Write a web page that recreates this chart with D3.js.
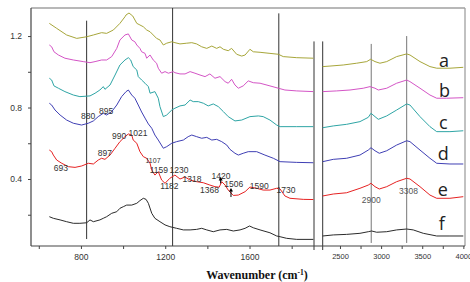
<!DOCTYPE html>
<html><head><meta charset="utf-8">
<script src="https://cdn.jsdelivr.net/npm/d3@7"></script>
<style>body{margin:0;background:#fff}svg{display:block}</style>
</head><body><svg id="c" width="470" height="282"></svg>
<script>
// ---------------- data ----------------
const seriesNames = ["a", "b", "c", "d", "e", "f"];
const curveA = [[650,1.271],[685,1.243],[732,1.206],[780,1.187],[827,1.196],[859,1.206],[898,1.219],[922,1.215],[954,1.234],[985,1.271],[1009,1.308],[1014,1.318],[1028,1.329],[1046,1.312],[1065,1.271],[1080,1.262],[1096,1.252],[1112,1.234],[1128,1.224],[1143,1.206],[1159,1.187],[1175,1.178],[1191,1.150],[1207,1.160],[1231,1.168],[1246,1.163],[1270,1.156],[1302,1.160],[1326,1.163],[1349,1.156],[1373,1.140],[1397,1.131],[1421,1.144],[1444,1.131],[1460,1.140],[1476,1.126],[1499,1.118],[1515,1.131],[1539,1.098],[1563,1.088],[1579,1.094],[1602,1.126],[1618,1.112],[1650,1.109],[1697,1.103],[1737,1.098],[1760,1.085],[1824,1.079],[1903,1.076],
  [2290,1.029],[2378,1.032],[2540,1.038],[2703,1.048],[2825,1.057],[2873,1.070],[2926,1.057],[2986,1.048],[3068,1.057],[3189,1.085],[3311,1.100],[3351,1.094],[3473,1.057],[3594,1.029],[3676,1.020],[3837,1.020],[3999,1.025]];
const curveB = [[650,1.150],[661,1.140],[672,1.112],[693,1.094],[724,1.076],[764,1.066],[811,1.057],[843,1.051],[867,1.057],[898,1.066],[922,1.066],[946,1.085],[970,1.131],[985,1.178],[1009,1.206],[1025,1.212],[1041,1.178],[1056,1.168],[1065,1.150],[1080,1.131],[1088,1.112],[1104,1.103],[1112,1.076],[1128,1.094],[1143,1.066],[1159,1.048],[1167,1.020],[1183,0.992],[1199,1.001],[1215,0.992],[1238,1.001],[1246,0.995],[1270,0.988],[1294,0.988],[1318,1.001],[1341,0.992],[1365,0.982],[1389,0.973],[1412,0.988],[1436,0.964],[1460,0.973],[1484,0.945],[1499,0.936],[1515,0.958],[1531,0.926],[1547,0.908],[1570,0.921],[1594,0.949],[1618,0.939],[1650,0.936],[1697,0.921],[1737,0.908],[1768,0.898],[1824,0.893],[1903,0.889],
  [2290,0.889],[2460,0.893],[2622,0.898],[2783,0.908],[2865,0.917],[2926,0.908],[2966,0.898],[3068,0.908],[3189,0.936],[3311,0.954],[3351,0.945],[3473,0.908],[3594,0.870],[3676,0.852],[3797,0.852],[3999,0.855]];
const curveC = [[650,0.964],[661,0.954],[672,0.921],[693,0.908],[724,0.889],[764,0.870],[795,0.861],[843,0.865],[867,0.880],[890,0.898],[906,0.917],[914,0.902],[938,0.926],[962,0.982],[985,1.038],[1009,1.066],[1025,1.079],[1036,1.066],[1048,1.029],[1065,1.010],[1072,0.973],[1088,0.954],[1104,0.936],[1120,0.917],[1128,0.880],[1151,0.889],[1167,0.852],[1175,0.805],[1191,0.749],[1207,0.758],[1231,0.786],[1246,0.796],[1270,0.809],[1294,0.814],[1318,0.842],[1333,0.833],[1357,0.833],[1381,0.824],[1404,0.809],[1428,0.820],[1452,0.805],[1476,0.777],[1499,0.749],[1531,0.725],[1563,0.730],[1602,0.749],[1642,0.753],[1665,0.749],[1697,0.730],[1729,0.702],[1745,0.693],[1824,0.693],[1903,0.693],
  [2290,0.687],[2419,0.697],[2581,0.706],[2743,0.721],[2844,0.745],[2877,0.768],[2926,0.749],[2966,0.734],[3068,0.753],[3189,0.786],[3311,0.820],[3351,0.814],[3473,0.749],[3594,0.693],[3676,0.665],[3837,0.665],[3999,0.670]];
const curveD = [[650,0.824],[661,0.814],[677,0.786],[701,0.758],[732,0.730],[764,0.712],[803,0.702],[835,0.712],[859,0.725],[882,0.749],[906,0.768],[922,0.758],[946,0.777],[970,0.814],[993,0.861],[1014,0.889],[1025,0.898],[1041,0.870],[1056,0.852],[1072,0.814],[1088,0.775],[1104,0.741],[1120,0.708],[1136,0.684],[1151,0.646],[1167,0.618],[1191,0.572],[1207,0.581],[1231,0.600],[1254,0.609],[1286,0.618],[1309,0.637],[1326,0.646],[1349,0.637],[1373,0.628],[1397,0.633],[1421,0.618],[1444,0.622],[1468,0.609],[1492,0.590],[1507,0.566],[1531,0.544],[1547,0.534],[1570,0.544],[1594,0.553],[1634,0.553],[1673,0.534],[1713,0.516],[1745,0.497],[1824,0.493],[1903,0.491],
  [2290,0.497],[2419,0.510],[2581,0.516],[2743,0.534],[2844,0.562],[2877,0.575],[2926,0.558],[2978,0.544],[3068,0.558],[3189,0.590],[3311,0.614],[3351,0.609],[3473,0.562],[3594,0.516],[3676,0.488],[3837,0.484],[3999,0.484]];
const curveE = [[650,0.562],[661,0.553],[669,0.534],[685,0.506],[709,0.488],[740,0.469],[772,0.465],[804,0.473],[835,0.488],[859,0.484],[882,0.506],[898,0.516],[914,0.510],[938,0.534],[962,0.572],[985,0.609],[1009,0.637],[1025,0.652],[1041,0.646],[1048,0.618],[1065,0.600],[1080,0.553],[1096,0.525],[1112,0.516],[1128,0.488],[1136,0.450],[1151,0.422],[1167,0.441],[1183,0.394],[1199,0.376],[1222,0.404],[1246,0.422],[1270,0.400],[1294,0.411],[1318,0.394],[1349,0.385],[1381,0.379],[1412,0.366],[1436,0.357],[1456,0.354],[1468,0.385],[1484,0.366],[1499,0.338],[1523,0.308],[1547,0.310],[1579,0.329],[1602,0.355],[1634,0.348],[1665,0.338],[1697,0.338],[1729,0.348],[1745,0.344],[1768,0.305],[1792,0.292],[1855,0.286],[1903,0.285],
  [2290,0.305],[2419,0.316],[2581,0.323],[2743,0.348],[2844,0.366],[2877,0.376],[2926,0.357],[2978,0.344],[3068,0.357],[3189,0.385],[3311,0.404],[3351,0.400],[3473,0.357],[3594,0.310],[3676,0.292],[3837,0.292],[3999,0.301]];
const curveF = [[650,0.189],[669,0.180],[701,0.171],[732,0.161],[764,0.152],[795,0.152],[827,0.155],[843,0.171],[859,0.161],[890,0.171],[906,0.180],[922,0.189],[946,0.208],[970,0.217],[985,0.236],[1001,0.245],[1017,0.254],[1041,0.254],[1065,0.264],[1080,0.279],[1096,0.292],[1109,0.286],[1120,0.264],[1136,0.208],[1151,0.180],[1175,0.161],[1199,0.143],[1222,0.133],[1254,0.124],[1286,0.115],[1318,0.115],[1349,0.118],[1373,0.124],[1397,0.115],[1428,0.105],[1460,0.115],[1492,0.118],[1523,0.109],[1555,0.115],[1579,0.124],[1600,0.137],[1618,0.127],[1650,0.115],[1697,0.099],[1729,0.081],[1745,0.077],[1776,0.068],[1824,0.062],[1903,0.062],
  [2290,0.081],[2419,0.087],[2581,0.090],[2743,0.096],[2844,0.105],[2885,0.109],[2946,0.102],[3068,0.105],[3189,0.115],[3311,0.120],[3391,0.115],[3513,0.096],[3676,0.081],[3837,0.081],[3999,0.081]];
const allCurves = [curveA, curveB, curveC, curveD, curveE, curveF];

const leftTicks = [600, 800, 1000, 1200, 1400, 1600, 1800];
const leftTickLabels = [800, 1200, 1600];
const rightTicks = [2500, 2750, 3000, 3250, 3500, 3750, 4000];
const rightTickLabels = [2500, 3000, 3500, 4000];
const yTicks = [0.2, 0.4, 0.6, 0.8, 1.0, 1.2];
const yTickLabels = [0.4, 0.8, 1.2];

// reference lines: [wavenumber, from, to]
const markerLines = [[827, 0.064, 1.286], [1235, 0.025, 1.357], [1739, 0.025, 1.327], [2880, 0.042, 1.156], [3311, 0.042, 1.200]];
// peak labels: [text, wavenumber, absorbance]
const peakLabels = [["693",705,0.462],["880",834,0.750],["895",919,0.778],["897",914,0.546],["990",981,0.641],["1021",1071,0.655],["1107",1142,0.501],["1159",1170,0.450],["1230",1265,0.453],["1182",1220,0.358],["1318",1327,0.400],["1368",1410,0.336],["1420",1465,0.415],["1506",1525,0.372],["1590",1646,0.358],["1730",1773,0.338],["2900",2880,0.282],["3308",3333,0.333]];
// arrows: [wavenumber, tail, head]
const arrows = [[1463, 0.375, 0.411], [1512, 0.299, 0.350]];
// series label anchors: [wavenumber, absorbance]
const seriesLabelPos = [[3705,1.027],[3705,0.861],[3705,0.678],[3690,0.506],[3690,0.305],[3700,0.115]];

// ---------------- style ----------------
const colors = ["#a7a63a", "#d455c6", "#2ea5a5", "#3f3fb4", "#e62222", "#2b2b2b"];

const svg = d3.select("#c");
const L = 31, R = 465, T = 8, B = 246;
const xL = d3.scaleLinear().domain([563, 1906]).range([L, 314]);
const xR = d3.scaleLinear().domain([2290, 4020]).range([322.7, R]);
const y = d3.scaleLinear().domain([0.025, 1.357]).range([B, T]);
const BREAK = 2100;
const xf = w => (w < BREAK ? xL(w) : xR(w));

// frame
svg.append("line").attr("x1", L).attr("x2", R).attr("y1", T).attr("y2", T).attr("stroke", "#a0a0a0").attr("stroke-width", 1.3);
svg.append("line").attr("x1", R).attr("x2", R).attr("y1", T).attr("y2", B).attr("stroke", "#a0a0a0").attr("stroke-width", 1.3);

// marker lines
markerLines.forEach(([w, a, b]) => {
  svg.append("line").attr("x1", xf(w)).attr("x2", xf(w)).attr("y1", y(a)).attr("y2", y(b))
    .attr("stroke", w < BREAK ? "#333" : "#777").attr("stroke-width", 1);
});

// break lines
[xL.range()[1], xR.range()[0]].forEach(px => {
  svg.append("line").attr("x1", px).attr("x2", px).attr("y1", y(1.17)).attr("y2", B + 4)
    .attr("stroke", "#333").attr("stroke-width", 1);
});

// curves
const line = d3.line().x(d => xf(d[0])).y(d => y(d[1]));
allCurves.forEach((c, i) => {
  const segs = [c.filter(d => d[0] < BREAK), c.filter(d => d[0] >= BREAK)];
  segs.forEach(s => {
    svg.append("path").attr("d", line(s)).attr("fill", "none").attr("stroke", colors[i]).attr("stroke-width", 1);
  });
});

// axes
const gxL = svg.append("g").attr("transform", `translate(0,${B})`)
  .call(d3.axisBottom(xL).tickValues(leftTicks).tickSize(3).tickPadding(5).tickFormat(d => leftTickLabels.includes(d) ? d : ""));
const gxR = svg.append("g").attr("transform", `translate(0,${B})`)
  .call(d3.axisBottom(xR).tickValues(rightTicks).tickSize(3).tickPadding(5).tickFormat(d => rightTickLabels.includes(d) ? d : ""));
const gy = svg.append("g").attr("transform", `translate(${L},0)`)
  .call(d3.axisLeft(y).tickValues(yTicks).tickSize(3).tickPadding(6).tickFormat(d => yTickLabels.includes(d) ? d3.format(".1f")(d) : ""));
[gxL, gxR, gy].forEach(g => {
  g.select(".domain").remove();
  g.selectAll(".tick line").attr("stroke", "#444");
  g.selectAll("text").attr("fill", "#333").style("font-family", "'Liberation Sans', Arial, sans-serif");
});
gxL.selectAll("text").style("font-size", "8.5px");
gxR.selectAll("text").style("font-size", "7.5px");
gy.selectAll("text").style("font-size", "8.5px");
svg.append("line").attr("x1", L).attr("x2", R).attr("y1", B).attr("y2", B).attr("stroke", "#444").attr("stroke-width", 1.2);
svg.append("line").attr("x1", L).attr("x2", L).attr("y1", T).attr("y2", B).attr("stroke", "#444").attr("stroke-width", 1.2);

// peak labels
peakLabels.forEach(([t, w, v]) => {
  svg.append("text").attr("x", xf(w)).attr("y", y(v)).attr("dy", "0.35em").attr("text-anchor", "middle")
    .attr("fill", w < BREAK ? "#333" : "#555")
    .style("font-family", "'Liberation Sans', Arial, sans-serif")
    .style("font-size", t === "1107" ? "7px" : "8.5px").text(t);
});

// arrows
arrows.forEach(([w, a, b]) => {
  const px = xL(w);
  svg.append("line").attr("x1", px).attr("x2", px).attr("y1", y(a)).attr("y2", y(b) + 2).attr("stroke", "#000").attr("stroke-width", 1);
  svg.append("path").attr("d", `M${px},${y(b)} l-2,3.5 l4,0 z`).attr("fill", "#000");
});

// series labels
seriesNames.forEach((n, i) => {
  const [w, v] = seriesLabelPos[i];
  svg.append("text").attr("x", xR(w)).attr("y", y(v)).attr("fill", "#222")
    .style("font-family", "'Open Sans', 'Noto Sans', sans-serif").style("font-size", "18px").text(n);
});

// axis title
const title = svg.append("text").attr("x", 257).attr("y", 279).attr("text-anchor", "middle")
  .attr("fill", "#111").style("font-family", "'Liberation Serif', 'Times New Roman', serif")
  .style("font-weight", "bold").style("font-size", "12px");
title.append("tspan").text("Wavenumber (cm");
title.append("tspan").attr("dy", "-4").style("font-size", "7.5px").text("-1");
title.append("tspan").attr("dy", "4").text(")");
</script></body></html>
